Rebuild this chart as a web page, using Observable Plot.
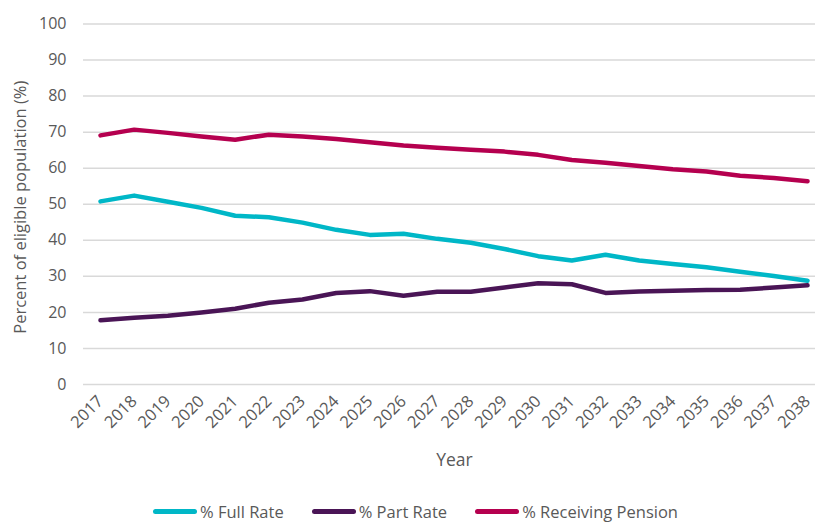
<!DOCTYPE html>
<html>
<head>
<meta charset="utf-8">
<script src="https://cdn.jsdelivr.net/npm/d3@7"></script>
<script src="https://cdn.jsdelivr.net/npm/@observablehq/plot@0.6"></script>
<style>
  html, body { margin: 0; padding: 0; background: #fff; }
  body { width: 815px; height: 523px; overflow: hidden; font-family: "Open Sans", sans-serif; }
  #legend { display: flex; align-items: center; padding-left: 153px; height: 23px; line-height: 20px; color: #595959; font-size: 16.5px; }
  .item { display: flex; align-items: center; margin-right: 28px; }
  .sw { width: 44px; height: 5px; border-radius: 3px; margin-right: 3px; }
</style>
</head>
<body>
<div id="chart"></div>
<div id="legend"></div>
<script>
const years = [2017,2018,2019,2020,2021,2022,2023,2024,2025,2026,2027,2028,2029,2030,2031,2032,2033,2034,2035,2036,2037,2038];
const fullRate = [50.8,52.4,50.7,49.0,46.8,46.4,44.9,42.9,41.5,41.8,40.4,39.3,37.6,35.6,34.4,36.0,34.4,33.4,32.5,31.3,30.1,28.8];
const partRate = [17.8,18.5,19.1,20.0,21.0,22.7,23.6,25.4,25.9,24.6,25.7,25.7,26.9,28.1,27.8,25.4,25.8,26.0,26.2,26.3,26.9,27.5];
const receiving = [69.1,70.7,69.8,68.8,67.9,69.3,68.8,68.1,67.2,66.3,65.7,65.1,64.6,63.7,62.3,61.5,60.6,59.7,59.1,57.9,57.3,56.4];
const seriesNames = ["% Full Rate", "% Part Rate", "% Receiving Pension"];
const seriesColors = ["#00B7C7", "#4A1556", "#B5004F"];
const yTicks = [0,10,20,30,40,50,60,70,80,90,100];
const yTitle = "Percent of eligible population (%)";
const xTitle = "Year";

const seriesValues = [fullRate, partRate, receiving];
const rows = [];
seriesNames.forEach((name, i) => years.forEach((yr, j) => rows.push({year: yr, value: seriesValues[i][j], series: name})));

const plot = Plot.plot({
  width: 815,
  height: 500,
  marginTop: 23.5,
  marginBottom: 116,
  marginLeft: 83,
  marginRight: 0,
  style: {fontFamily: "Open Sans, sans-serif", fontSize: "16px", color: "#595959", background: "#fff", overflow: "visible"},
  x: {domain: [2017, 2038], range: [100, 807]},
  y: {domain: [0, 100]},
  color: {domain: seriesNames, range: seriesColors},
  marks: [
    Plot.ruleY(yTicks, {stroke: "#D9D9D9", strokeWidth: 1.5}),
    Plot.axisY(yTicks, {tickSize: 0, tickPadding: 17, label: null, fill: "#595959", fontSize: 16}),
    Plot.axisX(years, {tickSize: 0, tickPadding: 14, tickRotate: -45, tickFormat: d => String(d), label: null, fill: "#595959", fontSize: 16.5}),
    Plot.lineY(rows, {x: "year", y: "value", stroke: "series", z: "series", strokeWidth: 4.5, strokeLinecap: "round", strokeLinejoin: "round"}),
    Plot.text([xTitle], {frameAnchor: "bottom", dy: 81, dx: 5, fontSize: 17.5, fill: "#595959"}),
    Plot.text([yTitle], {frameAnchor: "left", textAnchor: "middle", rotate: -90, dx: -63, dy: 3, fontSize: 16.5, fill: "#595959"})
  ]
});
document.getElementById("chart").appendChild(plot);

const legend = document.getElementById("legend");
seriesNames.forEach((name, i) => {
  const item = document.createElement("div");
  item.className = "item";
  const sw = document.createElement("div");
  sw.className = "sw";
  sw.style.background = seriesColors[i];
  const lab = document.createElement("span");
  lab.textContent = name;
  item.appendChild(sw);
  item.appendChild(lab);
  legend.appendChild(item);
});
</script>
</body>
</html>
